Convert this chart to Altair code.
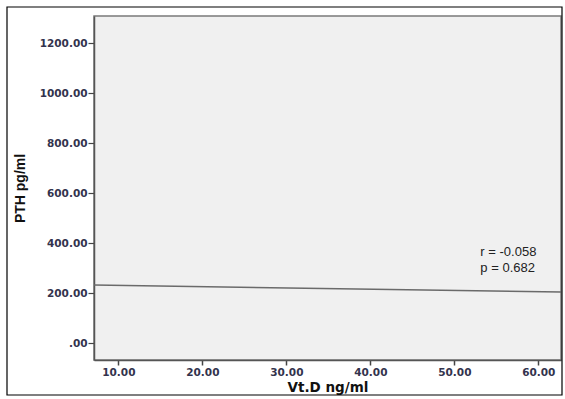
import altair as alt
import pandas as pd

# Regression line (Vt.D vs PTH)
line_x = [7.1, 62.7]
line_y = [232.0, 204.0]

# Annotation
ann_text = ["r = -0.058", "p = 0.682"]
ann_x = [53.1, 53.1]
ann_y = [364.0, 300.0]

x_ticks = [10, 20, 30, 40, 50, 60]
y_ticks = [0, 200, 400, 600, 800, 1000, 1200]

line_df = pd.DataFrame({"x": line_x, "y": line_y})
ann_df = pd.DataFrame({"x": ann_x, "y": ann_y, "t": ann_text})

xscale = alt.Scale(domain=[7.1, 62.7], nice=False, zero=False)
yscale = alt.Scale(domain=[-68, 1308], nice=False, zero=False)

label_expr = "datum.value == 0 ? '.00' : format(datum.value, '.2f')"

xaxis = alt.Axis(values=x_ticks, labelExpr=label_expr, title="Vt.D ng/ml", grid=False,
                 tickSize=5, labelPadding=2, labelFont="DejaVu Sans", labelFontWeight="bold",
                 labelFontSize=10.5, labelColor="#33334d", titleFont="DejaVu Sans",
                 titleFontSize=13.5, titleFontWeight="bold", titleColor="#111111",
                 titlePadding=3, domainColor="#555555", domainWidth=1.5,
                 tickColor="#444444", tickWidth=1.5)
yaxis = alt.Axis(values=y_ticks, labelExpr=label_expr, title="PTH pg/ml", grid=False,
                 tickSize=6, labelPadding=1, labelFont="DejaVu Sans", labelFontWeight="bold",
                 labelFontSize=10.5, labelColor="#33334d", titleFont="Liberation Sans",
                 titleFontSize=14, titleFontWeight="bold", titleColor="#111111",
                 titlePadding=12, domainColor="#555555", domainWidth=1.5,
                 tickColor="#444444", tickWidth=1.2)

line = alt.Chart(line_df).mark_line(color="#6a6a6a", strokeWidth=1.5).encode(
    x=alt.X("x:Q", scale=xscale, axis=xaxis),
    y=alt.Y("y:Q", scale=yscale, axis=yaxis),
)

text = alt.Chart(ann_df).mark_text(align="left", baseline="middle", font="Liberation Sans",
                                   fontSize=13, color="#222222").encode(
    x=alt.X("x:Q", scale=xscale),
    y=alt.Y("y:Q", scale=yscale),
    text="t:N",
)

frame = alt.Chart(pd.DataFrame({"a": [0]})).mark_rect(
    fill=None, stroke="#000000", strokeWidth=1.2, clip=False
).encode(
    x=alt.value(-87), x2=alt.value(468), y=alt.value(-9), y2=alt.value(379)
)

chart = alt.layer(line, text, frame).properties(
    width=467, height=344,
    autosize=alt.AutoSizeParams(type="none"),
    padding={"left": 94, "top": 16, "right": 4, "bottom": 39},
    background="#ffffff",
).configure_view(
    fill="#f0f0f0", stroke="#7a7a7a", strokeWidth=1.5
)

chart.save("out.html", embed_options={"renderer": "svg", "actions": False})
